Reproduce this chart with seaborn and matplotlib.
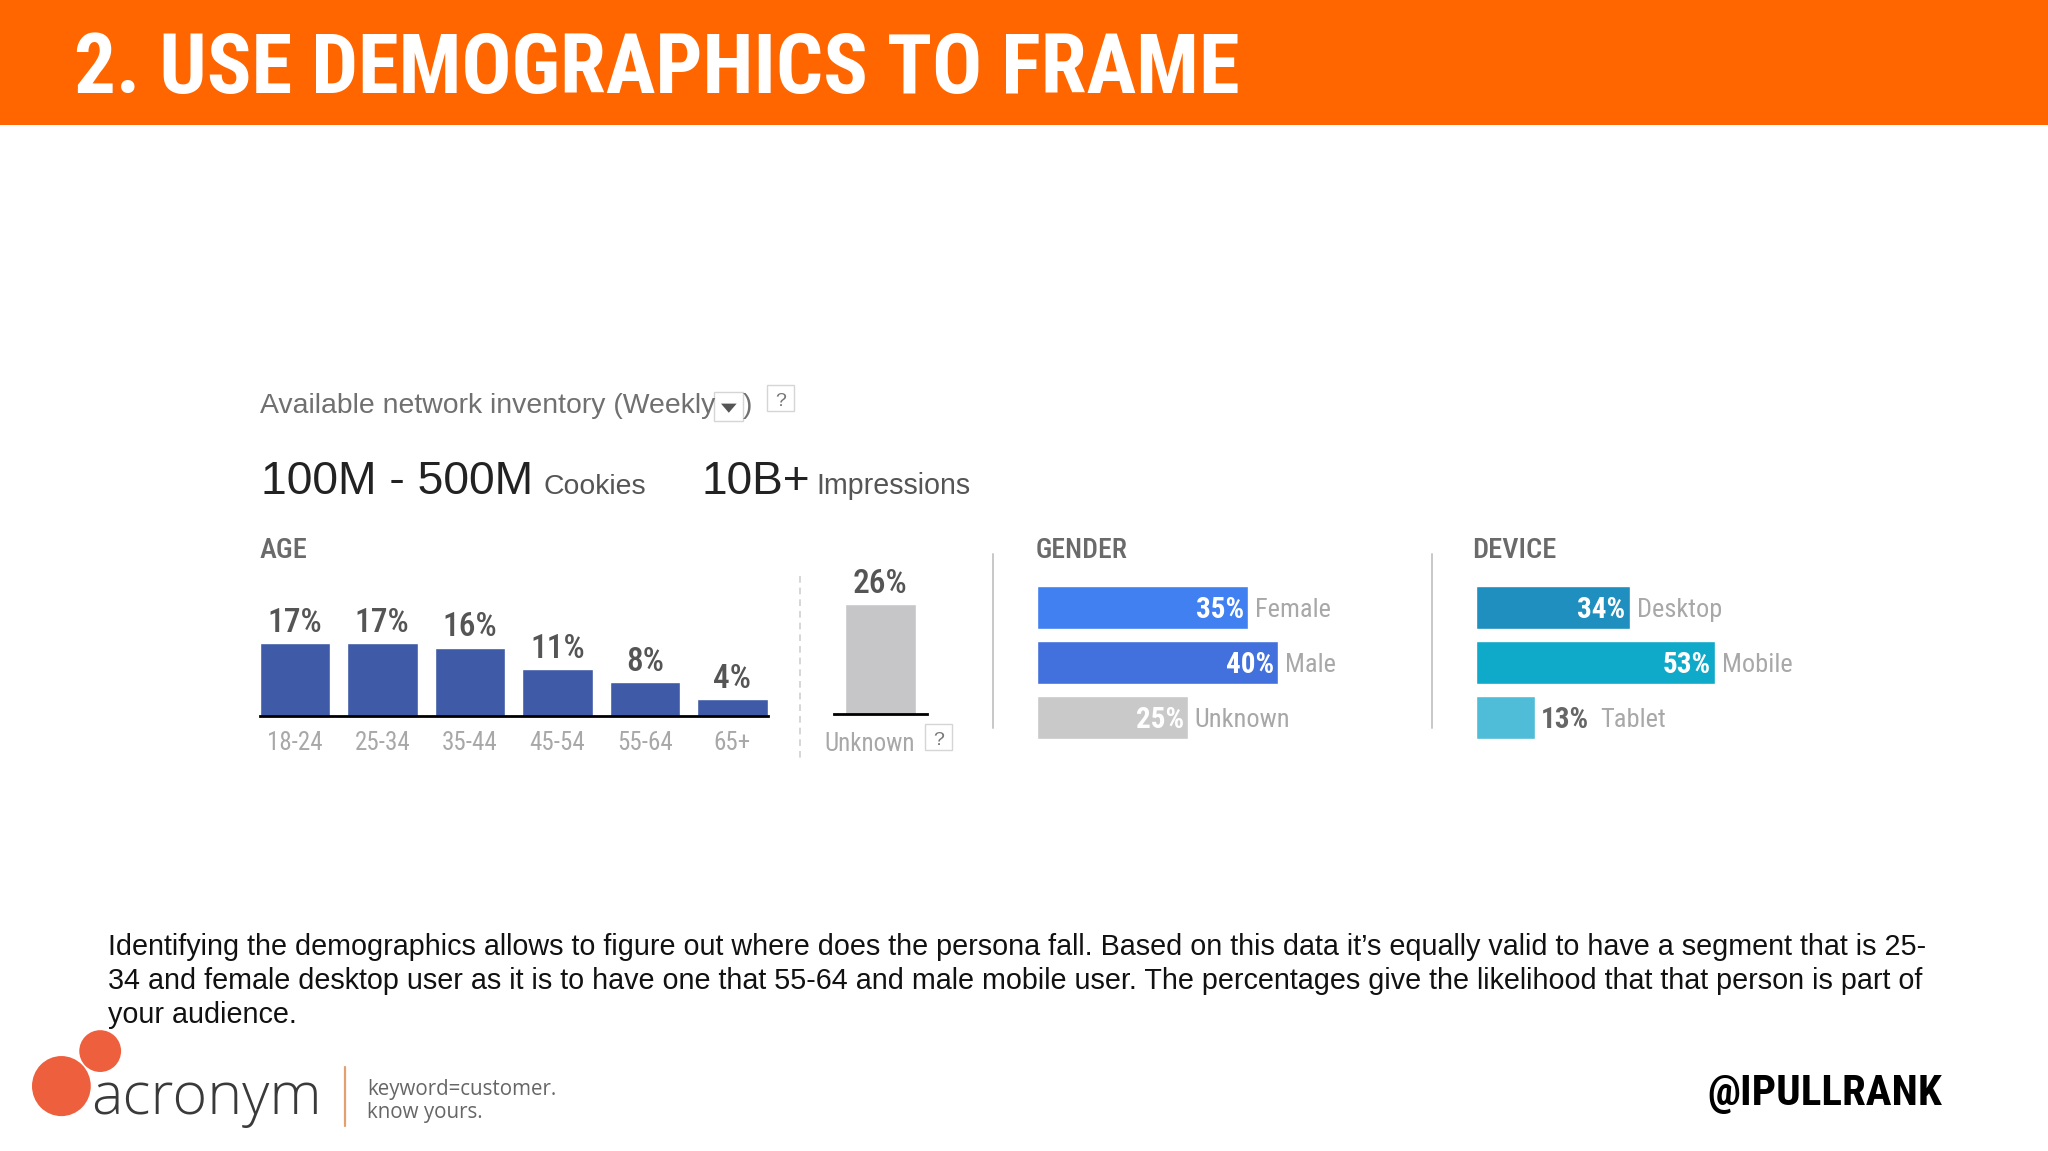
import matplotlib
matplotlib.use("Agg")
import matplotlib.pyplot as plt
from matplotlib.patches import Rectangle, Ellipse, Polygon
import seaborn as sns

age_labels = ["18-24", "25-34", "35-44", "45-54", "55-64", "65+"]
age_values = [17, 17, 16, 11, 8, 4]
unknown_label = ["Unknown"]
unknown_value = [26]
gender_labels = ["Female", "Male", "Unknown"]
gender_values = [35, 40, 25]
device_labels = ["Desktop", "Mobile", "Tablet"]
device_values = [34, 53, 13]

AGE_BLUE = "#3F5AA6"
GREY_BAR = "#C6C5C8"
gender_colors = ["#4080F0", "#4270DC", "#C9C9C9"]
device_colors = ["#1E8FBE", "#0FA9CA", "#50BDD8"]
TXT = "#6A6A6A"
TICK = "#A8A8A8"
SANS = "Liberation Sans"
NARROW = ["Roboto Condensed", "Liberation Sans"]

sns.set_theme(style="white")
W, H = 1568.0, 881.2
fig = plt.figure(figsize=(20.48, 11.51), dpi=100, facecolor="white")


def box(l, t, r, b, **kw):
    return fig.add_axes([l / W, 1 - b / H, (r - l) / W, (b - t) / H], **kw)


bg = box(0, 0, W, H)
bg.set_xlim(0, W)
bg.set_ylim(H, 0)
bg.axis("off")


def put(x, y, s, size, color=TXT, family=SANS, weight="normal", ha="left"):
    return bg.text(x, y, s, fontsize=size, color=color, family=family, weight=weight,
                   ha=ha, va="baseline")


# banner
bg.add_patch(Rectangle((0, 0), W, 96, color="#FF6600", lw=0))
put(56.5, 71, "2. USE DEMOGRAPHICS TO FRAME", 59.7, "white", NARROW, "bold")

# header block
put(199, 316, "Available network inventory (Weekly", 20.4, "#707070")
put(569, 316, ")", 20.4, "#707070")
bg.add_patch(Rectangle((547, 300), 22, 22, fc="white", ec="#D5D5D5", lw=1))
bg.add_patch(Polygon([(552, 309), (564, 309), (558, 316)], color="#555555", lw=0))
put(200, 378, "100M - 500M", 33.4, "#222222")
put(416, 378, "Cookies", 20.4, "#555555")
put(537, 378, "10B+", 33.2, "#222222")
put(625, 378, "Impressions", 20.6, "#555555")
put(199, 427, "AGE", 20.5, TXT, NARROW, 500)
put(793, 427, "GENDER", 20, TXT, NARROW, 500)
put(1127, 427, "DEVICE", 20.5, TXT, NARROW, 500)

# separators
bg.plot([612.5, 612.5], [441, 580], color="#CFCFCF", lw=1.2, ls=(0, (4, 3)))
bg.plot([760, 760], [424, 557], color="#C8C8C8", lw=1.4)
bg.plot([1096, 1096], [424, 557], color="#C8C8C8", lw=1.4)

# help boxes
for x, y in [(587, 295), (708, 554)]:
    bg.add_patch(Rectangle((x, y), 21, 20, fc="white", ec="#D5D5D5", lw=1))
    put(x + 10.5, y + 16, "?", 14, "#777777", ha="center")

# age chart
PX_PER_PCT = 3.26
age_ax = box(192.2, 548 - 30 * PX_PER_PCT, 594.2, 548)
sns.barplot(x=age_labels, y=age_values, color=AGE_BLUE, width=0.806, saturation=1,
            ax=age_ax)
age_ax.set_ylim(0, 30)
age_ax.set_xlim(-0.5, 5.5)
age_ax.patch.set_alpha(0)
sns.despine(ax=age_ax, left=True)
age_ax.set_yticks([])
age_ax.spines["bottom"].set_color("black")
age_ax.spines["bottom"].set_linewidth(2)
age_ax.spines["bottom"].set_bounds(-0.403, 5.403)
age_ax.tick_params(axis="x", length=0, pad=11, labelsize=18, labelcolor=TICK)
for t in age_ax.get_xticklabels():
    t.set_family(NARROW)
age_ax.bar_label(age_ax.containers[0], labels=[f"{v}%" for v in age_values], padding=3,
                 fontsize=24, color="#555555", fontweight=500, family=NARROW)

# unknown age chart
unk_ax = box(638.5, 547 - 30 * PX_PER_PCT, 709.5, 547)
sns.barplot(x=unknown_label, y=unknown_value, color=GREY_BAR, width=0.76, saturation=1,
            ax=unk_ax)
unk_ax.set_ylim(0, 30)
unk_ax.patch.set_alpha(0)
sns.despine(ax=unk_ax, left=True)
unk_ax.set_yticks([])
unk_ax.spines["bottom"].set_color("black")
unk_ax.spines["bottom"].set_linewidth(2)
unk_ax.set_xticks([])
bg.text(665.5, 575, unknown_label[0], fontsize=18, color=TICK, family=NARROW, ha="center",
        va="baseline")
unk_ax.bar_label(unk_ax.containers[0], labels=[f"{v}%" for v in unknown_value], padding=3,
                 fontsize=24, color="#555555", fontweight=500, family=NARROW)


def hbars(left, right, xmax, labels, values, colors, outside=()):
    ax = box(left, 444.2, right, 570.2)
    sns.barplot(x=values, y=labels, hue=labels, palette=colors, legend=False, width=0.786,
                saturation=1, orient="h", ax=ax)
    ax.set_xlim(0, xmax)
    ax.axis("off")
    for i, (lab, v) in enumerate(zip(labels, values)):
        if lab in outside:
            ax.annotate(f"{v}%", (v, i), xytext=(4.5, -2), textcoords="offset points", va="center",
                        ha="left", fontsize=21, color="#666666", fontweight="bold", family=NARROW)
            ax.annotate(lab, (v, i), xytext=(47, -2), textcoords="offset points", va="center",
                        ha="left", fontsize=19, color=TICK, family=NARROW)
        else:
            ax.annotate(f"{v}%", (v, i), xytext=(-3, -2), textcoords="offset points", va="center",
                        ha="right", fontsize=21, color="white", fontweight="bold", family=NARROW)
            ax.annotate(lab, (v, i), xytext=(5, -2), textcoords="offset points", va="center",
                        ha="left", fontsize=19, color=TICK, family=NARROW)
    return ax


hbars(794, 794 + 46.2 * 10, 100, gender_labels, gender_values, gender_colors)
hbars(1130, 1130 + 34.6 * 10, 100, device_labels, device_values, device_colors,
      outside=("Tablet",))

# body text
body = ["Identifying the demographics allows to figure out where does the persona fall. Based on this data it\u2019s equally valid to have a segment that is 25-",
        "34 and female desktop user as it is to have one that 55-64 and male mobile user. The percentages give the likelihood that that person is part of",
        "your audience."]
for y, line in zip([731, 757, 783], body):
    put(83, y, line, 20.7, "#111111")

# footer
put(1307, 846, "@IPULLRANK", 31, "black", NARROW, "bold")
bg.add_patch(Ellipse((47, 831.5), 45, 46, color="#EE5F3E", lw=0))
bg.add_patch(Ellipse((76.7, 804.7), 32, 32, color="#EE5F3E", lw=0))
put(70, 853, "acronym", 42.7, "#3A3A3A", "Open Sans", 300)
bg.plot([264, 264], [817, 862], color="#E0A070", lw=1.6)
put(281, 838, "keyword=customer.", 14.8, "#666666", "Open Sans")
put(281, 856, "know yours.", 14.8, "#666666", "Open Sans")

fig.savefig("out.png", dpi=100)
